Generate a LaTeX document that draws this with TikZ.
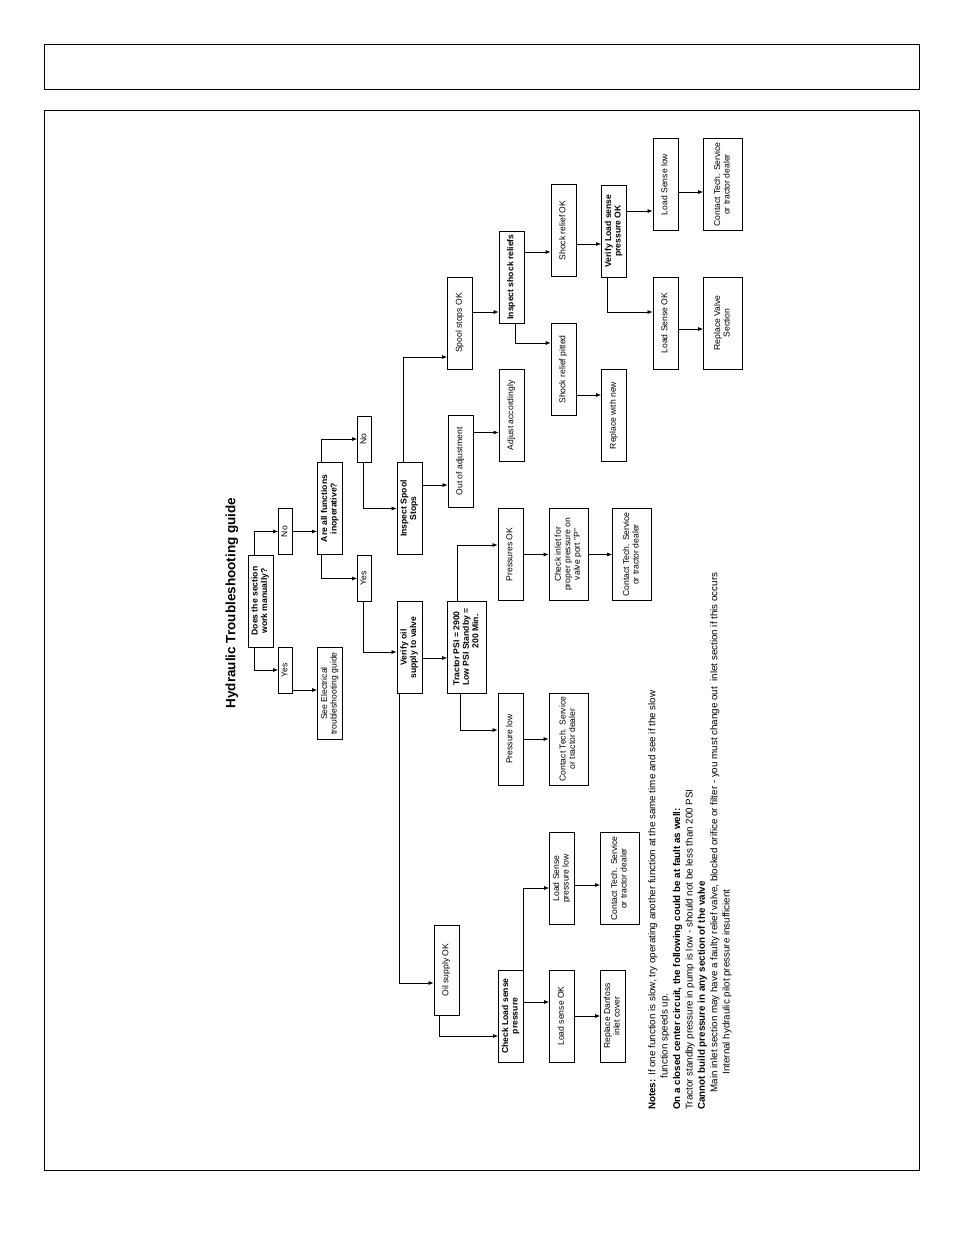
\documentclass[tikz,border=0pt]{standalone}
\usepackage{fontspec}
\setmainfont{Liberation Sans}
\usetikzlibrary{arrows.meta}
\usetikzlibrary{positioning}

\newcommand{\vtext}[1]{\rotatebox{90}{\begin{tabular}{@{}c@{}}#1\end{tabular}}}

\tikzset{
  box/.style={draw, line width=0.8pt, minimum width=25pt, minimum height=92pt,
    inner sep=0pt, font=\fontsize{8.6}{9.4}\selectfont},
  small/.style={box, minimum width=14pt, minimum height=46pt},
  wide/.style={box, minimum width=39pt},
  arr/.style={-{Latex[length=5pt,width=4pt]}, line width=0.7pt}
}

\begin{document}
\begin{tikzpicture}[x=1pt,y=-1pt]
\useasboundingbox (0,0) rectangle (954,1235);
\draw[line width=0.8pt] (44,44) rectangle (919,89);
\draw[line width=0.8pt] (44,110) rectangle (919,1170);

\node[rotate=90, font=\fontsize{13.5}{15}\selectfont\bfseries] (title) at (232,603) {Hydraulic Troubleshooting guide};

% first questions
\node[box] (does) at (260.5,601) {\vtext{\textbf{Does the section}\\\textbf{work manually?}}};
\node[small] (yes1) at (285.5,670) {\vtext{Yes}};
\node[small] (no1) at (285.5,531.5) {\vtext{No}};
\node[box] (seeelec) at (330,693.5) {\vtext{See Electrical\\troubleshooting guide}};
\node[box] (areall) at (330,508.5) {\vtext{\textbf{Are all functions}\\\textbf{inoperative?}}};
\node[small] (yes2) at (364.5,578.5) {\vtext{Yes}};
\node[small] (no2) at (364.5,439) {\vtext{No}};
\node[box] (verify) at (409.5,647.5) {\vtext{\textbf{Verify oil}\\\textbf{supply to valve}}};
\node[box] (inspect) at (409.5,508.5) {\vtext{\textbf{Inspect Spool}\\\textbf{Stops}}};

% oil supply branch
\node[wide] (tractor) at (467,647) {\rotatebox{90}{\bfseries\begin{tabular}{@{}l@{}}Tractor PSI = 2900\\Low PSI Standby =\\\multicolumn{1}{r}{200 Min.}\end{tabular}}};
\node[box] (pok) at (510.5,554.5) {\vtext{Pressures OK}};
\node[box] (plow) at (510.5,739) {\vtext{Pressure low}};
\node[wide] (checkin) at (568.5,554.5) {\vtext{Check inlet for\\proper pressure on\\valve port "P"}};
\node[wide] (contactlow) at (568.5,739) {\vtext{Contact Tech. Service\\or tractor dealer}};
\node[wide] (contactmid) at (632,554.5) {\vtext{Contact Tech. Service\\or tractor dealer}};

% spool branch
\node[box] (outadj) at (460.5,461.5) {\vtext{Out of adjustment}};
\node[box] (spoolok) at (460,323) {\vtext{Spool stops OK}};
\node[box] (adjust) at (511.5,415.5) {\vtext{Adjust accordingly}};
\node[box] (shock) at (511.5,277) {\vtext{\textbf{Inspect shock reliefs}}};
\node[box] (pitted) at (563.5,369.5) {\vtext{Shock relief pitted}};
\node[box] (shockok) at (563.5,230.5) {\vtext{Shock relief OK}};
\node[box] (replnew) at (614,415.5) {\vtext{Replace with new}};
\node[box] (verifyls) at (614,231) {\vtext{\textbf{Verify Load sense}\\\textbf{pressure OK}}};
\node[box] (lsok) at (665.5,323) {\vtext{Load Sense OK}};
\node[box] (lslow) at (665.5,184.5) {\vtext{Load Sense low}};
\node[wide] (replvalve) at (723,323) {\vtext{Replace Valve\\Section}};
\node[wide] (contacttop) at (723,184.5) {\vtext{Contact Tech. Service\\or tractor dealer}};

% load sense branch
\node[box, minimum height=90pt] (oil) at (446.5,970) {\vtext{Oil supply OK}};
\node[box] (checkls) at (511,1016) {\vtext{\textbf{Check Load sense}\\\textbf{pressure}}};
\node[box] (lsok2) at (562,1016) {\vtext{Load sense OK}};
\node[box] (lspl) at (562,878.5) {\vtext{Load Sense\\pressure low}};
\node[box] (repldan) at (613,1016) {\vtext{Replace Danfoss\\inlet cover}};
\node[wide] (contactbot) at (620,878.5) {\vtext{Contact Tech. Service\\or tractor dealer}};

\draw[arr] ([xshift=-6.5pt]does.south) |- (yes1.west);
\draw[arr] ([xshift=-6.5pt]does.north) |- (no1.west);
\draw[arr] ([yshift=-20pt]yes1.east) -- ([yshift=-20pt]yes1.east -| seeelec.west);
\draw[arr] (no1.east) -- (no1.east -| areall.west);
\draw[arr] ([xshift=-9pt]areall.south) |- (yes2.west);
\draw[arr] ([xshift=-9pt]areall.north) |- (no2.west);
\draw[arr] ([xshift=-1.5pt]yes2.south) |- ([yshift=-4.5pt]verify.west);
\draw[arr] ([xshift=-1.5pt]no2.south) |- (inspect.west);
\draw[arr] ([yshift=-10.5pt]verify.east) -- ([yshift=-10.5pt]verify.east -| tractor.west);
\draw[arr] ([xshift=-10.5pt]verify.south) |- ([yshift=-13pt]oil.west);
\draw[arr] ([xshift=-10pt]tractor.north) |- ([yshift=9.5pt]pok.west);
\draw[arr] ([xshift=-7pt]tractor.south) |- ([yshift=9pt]plow.west);
\draw[arr] (pok.east) -- (checkin.west);
\draw[arr] (checkin.east) -- (contactmid.west);
\draw[arr] (plow.east) -- (contactlow.west);
\draw[arr] ([yshift=23.5pt]inspect.east) -- ([yshift=23.5pt]inspect.east -| outadj.west);
\draw[arr] ([xshift=-6.5pt]inspect.north) |- ([yshift=-34pt]spoolok.west);
\draw[arr] ([yshift=29pt]outadj.east) -- ([yshift=29pt]outadj.east -| adjust.west);
\draw[arr] ([yshift=11pt]spoolok.east) -- ([yshift=11pt]spoolok.east -| shock.west);
\draw[arr] ([xshift=3.5pt]shock.south) |- ([yshift=26.5pt]pitted.west);
\draw[arr] ([yshift=25pt]shock.east) -- ([yshift=25pt]shock.east -| shockok.west);
\draw[arr] ([yshift=-25.5pt]pitted.east) -- ([yshift=-25.5pt]pitted.east -| replnew.west);
\draw[arr] ([yshift=-13.5pt]shockok.east) -- ([yshift=-13.5pt]shockok.east -| verifyls.west);
\draw[arr] ([xshift=-7pt]verifyls.south) |- ([yshift=11pt]lsok.west);
\draw[arr] ([yshift=20pt]verifyls.east) -- ([yshift=20pt]verifyls.east -| lslow.west);
\draw[arr] ([yshift=-6pt]lsok.east) -- ([yshift=-6pt]lsok.east -| replvalve.west);
\draw[arr] ([yshift=-7.5pt]lslow.east) -- ([yshift=-7.5pt]lslow.east -| contacttop.west);
\draw[arr] ([xshift=-7pt]oil.south) |- ([yshift=-20pt]checkls.west);
\draw[arr] ([yshift=14pt]checkls.east) -- ([yshift=14pt]checkls.east -| lsok2.west);
\draw[arr] ([xshift=12pt]checkls.north) |- ([yshift=-9.5pt]lspl.west);
\draw[arr] (lsok2.east) -- (repldan.west);
\draw[arr] ([yshift=-6.5pt]lspl.east) -- ([yshift=-6.5pt]lspl.east -| contactbot.west);

\node[rotate=90, anchor=north west, inner sep=0pt, align=left,
  font=\fontsize{9.8}{12.4}\selectfont] (notes) at (648,1110) {%
\textbf{Notes:} If one function is slow, try operating another function at the same time and see if the slow\\
\hspace*{3.2em}function speeds up.\\
\textbf{On a closed center circuit, the following could be at fault as well:}\\
Tractor standby pressure in pump is low - should not be less than 200 PSI\\
\textbf{Cannot build pressure in any section of the valve}\\
\hspace*{1.8em}Main inlet section may have a faulty relief valve, blocked orifice or filter - you must change out\ \ inlet section if this occurs\\
\hspace*{3.6em}Internal hydraulic pilot pressure insufficient};
\end{tikzpicture}
\end{document}
